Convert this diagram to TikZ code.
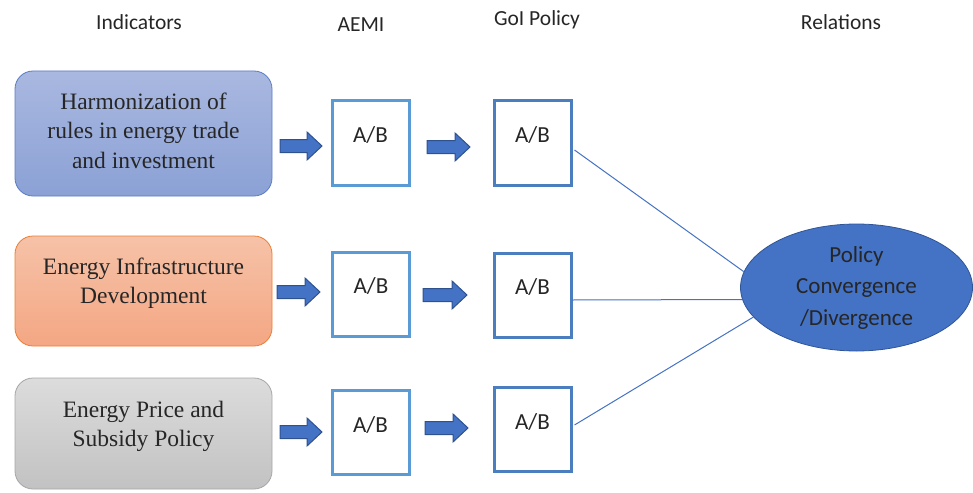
\documentclass[tikz,border=0pt]{standalone}
\usepackage{fontspec}
\setmainfont{Liberation Serif}
\newfontfamily\calfont{Carlito}
\usetikzlibrary{shapes.geometric}
\definecolor{bluebd}{HTML}{5A7CC4}
\definecolor{bluetop}{HTML}{A9B8E0}
\definecolor{bluebot}{HTML}{8BA1D5}
\definecolor{orbd}{HTML}{ED7D31}
\definecolor{ortop}{HTML}{F6C2A8}
\definecolor{orbot}{HTML}{F4A783}
\definecolor{grbd}{HTML}{A6A6A6}
\definecolor{grtop}{HTML}{DCDCDC}
\definecolor{grbot}{HTML}{C2C2C2}
\definecolor{aemibd}{HTML}{5B9BD5}
\definecolor{goibd}{HTML}{4A7EBF}
\definecolor{arrfill}{HTML}{4472C4}
\definecolor{arrbd}{HTML}{2F528F}
\definecolor{elfill}{HTML}{4472C4}
\definecolor{elbd}{HTML}{2F5597}
\definecolor{txt}{HTML}{262626}
\tikzset{
  indbox/.style={rounded corners=18pt, minimum width=257pt, line width=0.8pt},
  indtext/.style={align=center, text=txt, font=\fontsize{23.5}{29.5}\selectfont},
  sqbox/.style={draw, line width=3pt, fill=white, minimum width=77pt, minimum height=84pt},
  abtext/.style={text=txt, font=\calfont\fontsize{23}{27}\selectfont},
  head/.style={text=txt, font=\calfont\fontsize{21.5}{26}\selectfont},
  barrow/.style={draw=arrbd, fill=arrfill, line width=1pt, line join=miter},
  link/.style={draw=elfill, line width=1pt}
}
% block arrow from x=#1 to x=#2 at height #3
\newcommand\blkarrow[3]{%
  \draw[barrow] (#1,#3+6.5) -- (#2-15,#3+6.5) -- (#2-15,#3+14) -- (#2,#3)
     -- (#2-15,#3-14) -- (#2-15,#3-6.5) -- (#1,#3-6.5) -- cycle;}
\begin{document}
\begin{tikzpicture}[x=1pt,y=1pt]
\useasboundingbox (0,0) rectangle (973,-492);
% headers
\node[head] (h1) at (139,-22) {Indicators};
\node[head] (h2) at (361,-25) {AEMI};
\node[head] (h3) at (537,-20) {GoI Policy};
\node[head] (h4) at (841,-22) {Relations};
% indicator boxes
\node[indbox, draw=bluebd, top color=bluetop, bottom color=bluebot, minimum height=125pt] (i1) at (143.5,-133.5) {};
\node[indtext] (i1t) at (143.5,-130.5) {Harmonization of\\rules in energy trade\\and investment};
\node[indbox, draw=orbd, top color=ortop, bottom color=orbot, minimum height=110pt] (i2) at (143.5,-291) {};
\node[indtext] (i2t) at (143.5,-283) {Energy Infrastructure\\Development};
\node[indbox, draw=grbd, top color=grtop, bottom color=grbot, minimum height=111pt] (i3) at (143.5,-433.5) {};
\node[indtext] (i3t) at (143.5,-426.5) {Energy Price and\\Subsidy Policy};
% AEMI squares
\node[sqbox, draw=aemibd] (a1) at (370.5,-143) {};
\node[sqbox, draw=aemibd] (a2) at (371,-294) {};
\node[sqbox, draw=aemibd] (a3) at (370.5,-432) {};
\node[abtext] at ([yshift=-36pt]a1.north) {A/B};
\node[abtext] at ([yshift=-36pt]a2.north) {A/B};
\node[abtext] at ([yshift=-36pt]a3.north) {A/B};
% GoI squares
\node[sqbox, draw=goibd] (g1) at (532.5,-143) {};
\node[sqbox, draw=goibd] (g2) at (532.5,-295) {};
\node[sqbox, draw=goibd] (g3) at (532.5,-429) {};
\node[abtext] at ([yshift=-36pt]g1.north) {A/B};
\node[abtext] at ([yshift=-36pt]g2.north) {A/B};
\node[abtext] at ([yshift=-36pt]g3.north) {A/B};
% block arrows
\blkarrow{280}{322}{-146}
\blkarrow{427}{470}{-147}
\blkarrow{277}{320}{-292}
\blkarrow{423}{467}{-295}
\blkarrow{280}{322}{-432}
\blkarrow{425}{468}{-428}
% ellipse
\node[ellipse, draw=elbd, fill=elfill, line width=0.8pt, minimum width=232pt, minimum height=127pt,
      align=center, text=txt, font=\calfont\fontsize{23}{31.5}\selectfont] (el) at (856.5,-287.5)
      {Policy\\Convergence\\/Divergence};
% links
\draw[link] ([xshift=2pt,yshift=-7pt]g1.east) -- (el.172);
\draw[link] ([yshift=-5pt]g2.east) -- (el.186);
\draw[link] ([xshift=2pt,yshift=4pt]g3.east) -- (el.196);
\end{tikzpicture}
\end{document}
